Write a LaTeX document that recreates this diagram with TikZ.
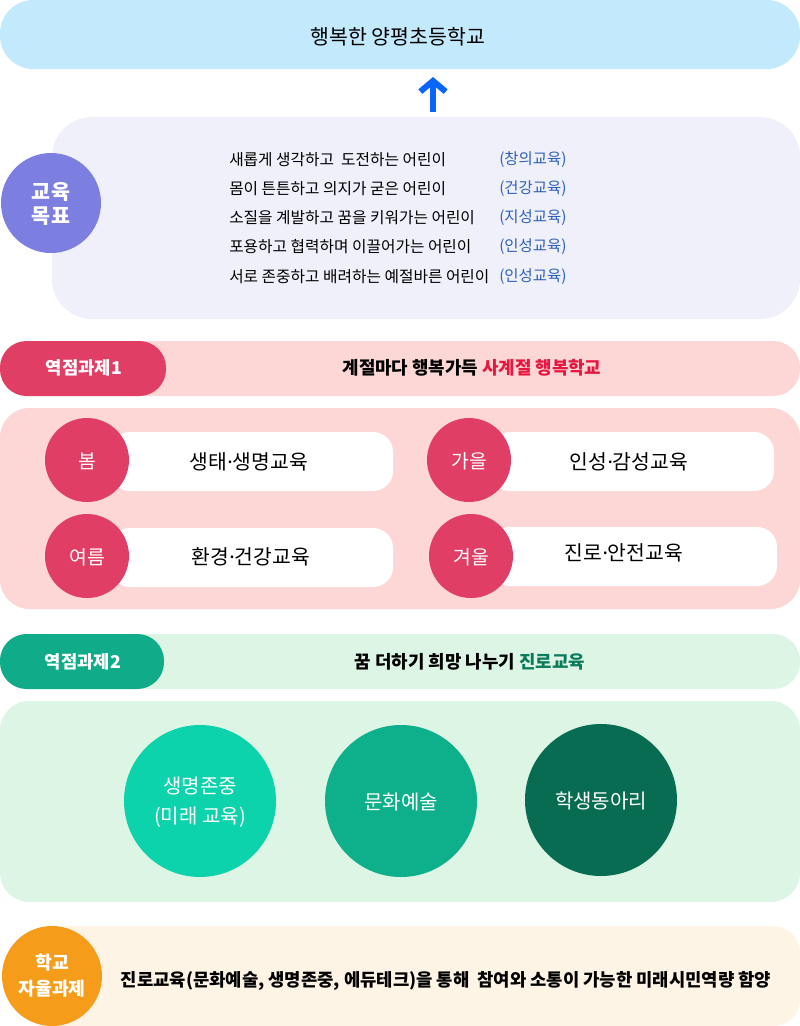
\documentclass[tikz,border=0pt]{standalone}
\usepackage{fontspec}
\setmainfont{Noto Sans CJK KR}
\newfontfamily\dotfont{Noto Sans}
\usetikzlibrary{arrows.meta}

\definecolor{skyblue}{HTML}{C3E9FD}
\definecolor{arrowblue}{HTML}{0A66FA}
\definecolor{lavender}{HTML}{F0F0FA}
\definecolor{goalpurple}{HTML}{7D7FE0}
\definecolor{parenblue}{HTML}{2F60B8}
\definecolor{pinklight}{HTML}{FDD6D6}
\definecolor{pinkdeep}{HTML}{E13E66}
\definecolor{redtext}{HTML}{E6173E}
\definecolor{greenlight}{HTML}{DDF5E5}
\definecolor{greenpill}{HTML}{10AC8A}
\definecolor{greenone}{HTML}{0CD3AB}
\definecolor{greentwo}{HTML}{0EAF8B}
\definecolor{greenthree}{HTML}{076C51}
\definecolor{greentext}{HTML}{0B7B5B}
\definecolor{cream}{HTML}{FEF4E5}
\definecolor{orangedeep}{HTML}{F59D1B}

\newcommand{\sdot}{{\dotfont ·}}

\begin{document}
\begin{tikzpicture}[x=0.75pt,y=-0.75pt,
	every node/.style={inner sep=0pt},
	goal/.style={anchor=west,font=\fontsize{11.8}{14}\selectfont},
	paren/.style={anchor=west,text=parenblue,font=\fontsize{11.6}{14}\selectfont},
	tag/.style={text=white,font=\bfseries\fontsize{13.3}{16}\selectfont},
	headline/.style={font=\bfseries\fontsize{13.4}{16}\selectfont},
	season/.style={text=white,font=\fontsize{14.5}{17}\selectfont},
	topic/.style={font=\fontsize{15.3}{18}\selectfont},
	ball/.style={text=white,align=center,font=\fontsize{15}{22.5}\selectfont}]

		\useasboundingbox (0,0) rectangle (800,1026);

		\coordinate (arrowtail) at (433,112);
		\coordinate (arrowtip) at (433,77);

		% top
		\fill [skyblue, rounded corners=25pt] (0,0) rectangle (800,69);
		\node (school) at (398,37) {\fontsize{15.4}{18}\selectfont 행복한 양평초등학교};
		\draw [arrowblue, line width=4.5pt, -{Straight Barb[length=8pt,width=19pt]}] (arrowtail) -- (arrowtip);

		% goals
		\fill [lavender, rounded corners=30pt] (52,117) rectangle (800,319);
		\fill [goalpurple] (51,203) circle (37.5pt);
		\node [align=center, text=white, font=\bfseries\fontsize{15.5}{18}\selectfont] (goalbadge) at (51,204) {교육\\목표};

		\node [goal] (goalA) at (229,160) {새롭게 생각하고 \ 도전하는 어린이};
		\node [goal] (goalB) at (229,189) {몸이 튼튼하고 의지가 굳은 어린이};
		\node [goal] (goalC) at (229,218) {소질을 계발하고 꿈을 키워가는 어린이};
		\node [goal] (goalD) at (229,247) {포용하고 협력하며 이끌어가는 어린이};
		\node [goal] (goalE) at (229,277) {서로 존중하고 배려하는 예절바른 어린이};
		\node [paren] (parenA) at (499,160) {(창의교육)};
		\node [paren] (parenB) at (499,189) {(건강교육)};
		\node [paren] (parenC) at (499,218) {(지성교육)};
		\node [paren] (parenD) at (499,247) {(인성교육)};
		\node [paren] (parenE) at (499,277) {(인성교육)};

		% task 1
		\fill [pinklight, rounded corners=20pt] (0,341) rectangle (800,396);
		\fill [pinkdeep, rounded corners=20pt] (0,341) rectangle (166,396);
		\node [tag] (taskA) at (84,368) {역점과제1};
		\node [headline] (titleA) at (472,368) {계절마다 행복가득 \textcolor{redtext}{사계절 행복학교}};

		\fill [pinklight, rounded corners=22pt] (0,408) rectangle (800,609);
		\fill [white, rounded corners=15pt] (110,432) rectangle (393,491);
		\fill [white, rounded corners=15pt] (490,432) rectangle (774,491);
		\fill [white, rounded corners=15pt] (110,528) rectangle (393,587);
		\fill [white, rounded corners=15pt] (490,527) rectangle (777,586);
		\fill [pinkdeep] (87,460) circle (31.5pt);
		\fill [pinkdeep] (469,460) circle (31.5pt);
		\fill [pinkdeep] (87,556) circle (31.5pt);
		\fill [pinkdeep] (471,556) circle (31.5pt);

		\node [season] (spring) at (87,461) {봄};
		\node [season] (autumn) at (469,461) {가을};
		\node [season] (summer) at (87,557) {여름};
		\node [season] (winter) at (471,557) {겨울};
		\node [topic] (springtopic) at (249,462) {생태\sdot 생명교육};
		\node [topic] (autumntopic) at (629,462) {인성\sdot 감성교육};
		\node [topic] (summertopic) at (251,557) {환경\sdot 건강교육};
		\node [topic] (wintertopic) at (624,553) {진로\sdot 안전교육};

		% task 2
		\fill [greenlight, rounded corners=20pt] (0,634) rectangle (800,689);
		\fill [greenpill, rounded corners=20pt] (0,634) rectangle (164,689);
		\node [tag] (taskB) at (83,662) {역점과제2};
		\node [headline] (titleB) at (470,662) {꿈 더하기 희망 나누기 \textcolor{greentext}{진로교육}};

		\fill [greenlight, rounded corners=22pt] (0,701) rectangle (800,902);
		\fill [greenone] (200,801) circle (57pt);
		\fill [greentwo] (401,801) circle (57pt);
		\fill [greenthree] (601,800) circle (57pt);
		\node [ball] (life) at (200,802) {생명존중\\(미래 교육)};
		\node [ball] (arts) at (401,802) {문화예술};
		\node [ball] (club) at (601,801) {학생동아리};

		% school task
		\fill [cream, rounded corners=20pt] (40,926) rectangle (800,1026);
		\fill [orangedeep] (52,976) circle (37.5pt);
		\node [align=center, text=white, font=\bfseries\fontsize{13.7}{19.5}\selectfont] (schooltask) at (52,976) {학교\\자율과제};
		\node [headline, font=\bfseries\fontsize{13.3}{15}\selectfont] (schoolgoal) at (446,981) {진로교육(문화예술, 생명존중, 에듀테크)을 통해 \ 참여와 소통이 가능한 미래시민역량 함양};
\end{tikzpicture}
\end{document}
